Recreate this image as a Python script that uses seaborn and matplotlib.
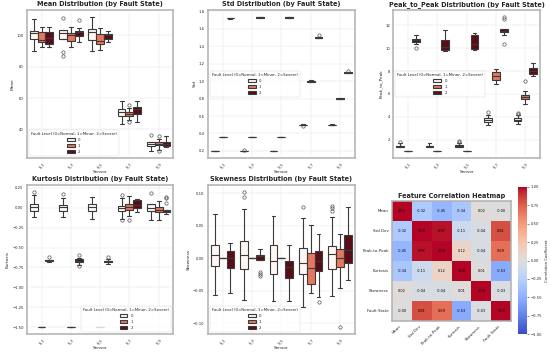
import numpy as np
import pandas as pd
import matplotlib
matplotlib.use("Agg")
import matplotlib.pyplot as plt
import seaborn as sns

# Sensors and fault levels
sensors = ["S_1", "S_3", "S_5", "S_7", "S_9"]
levels = [0, 1, 2]

# Box summaries per sensor and fault level: [low whisker, q1, median, q3, high whisker]
mean_stats = [
    [[90.3, 97.8, 101.3, 102.8, 110.3], [92.5, 95.5, 97.4, 102.4, 105.2], [92.5, 94.6, 98.3, 102.4, 105.2]],
    [[89.7, 98.0, 101.5, 103.2, 111.2], [92.7, 96.6, 100.0, 101.5, 105.2], [95.5, 99.8, 102.0, 102.8, 105.0]],
    [[89.9, 97.2, 102.2, 103.9, 112.0], [91.0, 94.8, 96.3, 101.1, 104.7], [95.7, 97.8, 100.2, 101.1, 102.8]],
    [[43.7, 48.8, 50.8, 52.7, 58.1], [46.2, 48.4, 49.7, 50.8, 53.8], [44.7, 49.7, 52.9, 54.0, 58.3]],
    [[26.0, 29.5, 30.8, 32.0, 36.1], [28.6, 29.7, 30.8, 31.6, 33.8], [28.6, 29.5, 30.5, 32.0, 35.5]],
]
mean_out = {(1, 0): [86.7], (1, 2): [109.7], (3, 1): [55.3, 44.5], (4, 1): [35.5, 27.1, 26.0]}

std_stats = [
    [[0.196, 0.199, 0.200, 0.201, 0.204], [0.354, 0.354, 0.354, 0.354, 0.354], [1.716, 1.720, 1.723, 1.726, 1.730]],
    [[0.196, 0.199, 0.200, 0.201, 0.204], [0.354, 0.354, 0.354, 0.354, 0.354], [1.726, 1.730, 1.733, 1.737, 1.740]],
    [[0.196, 0.199, 0.200, 0.201, 0.204], [0.354, 0.354, 0.354, 0.354, 0.354], [1.724, 1.728, 1.731, 1.734, 1.737]],
    [[0.495, 0.498, 0.500, 0.502, 0.506], [0.990, 0.995, 1.000, 1.004, 1.010], [1.494, 1.498, 1.501, 1.504, 1.508]],
    [[0.495, 0.498, 0.500, 0.502, 0.505], [0.794, 0.797, 0.800, 0.803, 0.806], [1.090, 1.094, 1.097, 1.100, 1.104]],
]
std_out = {(3, 0): [0.485], (3, 2): [1.525], (4, 2): [1.12], (1, 0): [0.212]}

p2p_stats = [
    [[1.33, 1.36, 1.45, 1.50, 1.71], [1.0, 1.0, 1.0, 1.0, 1.0], [10.40, 10.52, 10.70, 10.84, 11.13]],
    [[1.33, 1.38, 1.45, 1.50, 1.68], [1.0, 1.0, 1.0, 1.0, 1.0], [9.77, 9.83, 10.12, 10.70, 11.60]],
    [[1.33, 1.36, 1.47, 1.52, 1.70], [1.0, 1.0, 1.0, 1.0, 1.0], [9.86, 9.91, 10.38, 11.13, 11.30]],
    [[3.33, 3.57, 3.74, 3.86, 4.17], [6.90, 7.25, 7.57, 7.94, 8.20], [11.13, 11.39, 11.54, 11.71, 11.71]],
    [[3.36, 3.60, 3.74, 3.86, 4.14], [5.16, 5.57, 5.74, 5.91, 6.29], [7.57, 7.77, 8.03, 8.23, 8.72]],
]
p2p_out = {(0, 0): [1.80], (2, 0): [1.90, 1.80], (3, 0): [4.40], (0, 2): [10.03],
           (3, 2): [12.75, 12.55, 10.40], (4, 0): [4.38, 4.26], (4, 1): [7.13]}

kurt_stats = [
    [[-0.114, -0.038, 0.008, 0.047, 0.160], [-1.5, -1.5, -1.5, -1.5, -1.5], [-0.686, -0.670, -0.660, -0.652, -0.620]],
    [[-0.120, -0.038, 0.004, 0.034, 0.127], [-1.5, -1.5, -1.5, -1.5, -1.5], [-0.690, -0.678, -0.665, -0.648, -0.635]],
    [[-0.136, -0.038, 0.013, 0.047, 0.140], [-1.5, -1.5, -1.5, -1.5, -1.5], [-0.690, -0.682, -0.673, -0.665, -0.660]],
    [[-0.136, -0.047, 0.000, 0.025, 0.120], [-0.106, -0.030, 0.004, 0.047, 0.110], [-0.060, -0.008, 0.038, 0.093, 0.114]],
    [[-0.157, -0.047, -0.004, 0.047, 0.190], [-0.157, -0.060, -0.025, 0.013, 0.080], [-0.085, -0.060, -0.047, -0.030, -0.030]],
]
kurt_out = {(0, 0): [0.20], (1, 0): [0.17], (1, 2): [-0.59, -0.716, -0.737],
            (2, 2): [-0.62, -0.64, -0.705], (3, 0): [0.165, -0.157], (3, 1): [0.15, 0.135, -0.15],
            (4, 2): [0.13, 0.12, 0.055]}

skew_stats = [
    [[-0.056, -0.0113, 0.0046, 0.0206, 0.068], [0.0, 0.0, 0.0, 0.0, 0.0], [-0.053, -0.0155, 0.0, 0.0113, 0.023]],
    [[-0.064, -0.017, 0.0046, 0.026, 0.076], [0.0, 0.0, 0.0, 0.0, 0.0], [-0.0026, -0.0026, 0.003, 0.005, 0.006]],
    [[-0.065, -0.025, -0.0036, 0.0196, 0.064], [0.0, 0.0, 0.0, 0.0, 0.0], [-0.065, -0.030, -0.014, -0.0036, 0.021]],
    [[-0.075, -0.024, -0.0077, 0.015, 0.061], [-0.054, -0.040, -0.0155, 0.008, 0.0515], [-0.060, -0.020, -0.0046, 0.011, 0.0376]],
    [[-0.058, -0.016, 0.0067, 0.0186, 0.063], [-0.045, -0.0139, 0.001, 0.0144, 0.0376], [-0.0335, -0.0072, 0.0119, 0.036, 0.078]],
]
skew_out = {(1, 0): [0.102, 0.094], (1, 2): [0.014, -0.021, -0.024, -0.027],
            (3, 0): [0.078], (3, 2): [-0.067], (4, 0): [0.080, 0.077, 0.073], (4, 1): [-0.106]}

# Correlation matrix
corr_labels = ["Mean", "Std Dev", "Peak-to-Peak", "Kurtosis", "Skewness", "Fault State"]
corr_values = [
    [1.00, -0.32, -0.45, -0.34, 0.02, -0.00],
    [-0.32, 1.00, 0.97, -0.11, -0.04, 0.81],
    [-0.45, 0.97, 1.00, 0.12, -0.04, 0.69],
    [-0.34, -0.11, 0.12, 1.00, 0.01, -0.53],
    [0.02, -0.04, -0.04, 0.01, 1.00, -0.03],
    [-0.00, 0.81, 0.69, -0.53, -0.03, 1.00],
]


def expand(stats, outliers):
    # build a sample whose quartiles/whiskers reproduce the summary
    lo, q1, med, q3, hi = stats
    lows = sorted(v for v in outliers if v < med)
    highs = sorted(v for v in outliers if v > med)
    k = max(len(lows), len(highs)) + 1
    vals = lows + [lo] + [q1] * (k - len(lows) - 1)
    vals += [q1] + [q1] * (k - 1) + [med] + [q3] * (k - 1) + [q3]
    vals += [q3] * (k - len(highs) - 1) + [hi] + highs
    return vals


def to_frame(stats, outs, name):
    rows = []
    for i, s in enumerate(sensors):
        for lv in levels:
            for v in expand(stats[i][lv], outs.get((i, lv), [])):
                rows.append({"Sensor": s, "Fault": lv, name: v})
    return pd.DataFrame(rows)


sns.set_style("whitegrid")
plt.rcParams["font.family"] = ["DejaVu Sans"]

fig = plt.figure(figsize=(5.5, 3.55), dpi=100)
positions = [
    [0.049, 0.555, 0.266, 0.417],
    [0.378, 0.555, 0.267, 0.417],
    [0.715, 0.555, 0.267, 0.417],
    [0.049, 0.059, 0.266, 0.420],
    [0.378, 0.059, 0.267, 0.420],
]
panels = [
    (mean_stats, mean_out, "Mean", "lower left"),
    (std_stats, std_out, "Std", "center left"),
    (p2p_stats, p2p_out, "Peak_to_Peak", "center left"),
    (kurt_stats, kurt_out, "Kurtosis", "lower right"),
    (skew_stats, skew_out, "Skewness", "lower left"),
]

flier = {"marker": "o", "markerfacecolor": "none", "markeredgecolor": "#555555",
         "markersize": 2.4, "markeredgewidth": 0.5}

for pos, (stats, outs, name, loc) in zip(positions, panels):
    ax = fig.add_axes(pos)
    df = to_frame(stats, outs, name)
    sns.boxplot(data=df, x="Sensor", y=name, hue="Fault", palette="Reds", ax=ax,
                linewidth=0.8, linecolor="#3a3a3a", flierprops=flier)
    ax.set_title(f"{name} Distribution (by Fault State)", fontsize=4.7, fontweight="bold", pad=2.5)
    ax.set_xlabel("Sensor", fontsize=3.1, labelpad=1)
    ax.set_ylabel(name, fontsize=3.1, labelpad=1.5)
    ax.tick_params(axis="both", labelsize=2.7, length=1.4, width=0.4, pad=1)
    ax.tick_params(axis="x", rotation=45)
    ax.grid(True, linewidth=0.35, color="#e4e4e4")
    for sp in ax.spines.values():
        sp.set_color("#b0b0b0")
        sp.set_linewidth(1.1)
    leg = ax.legend(title="Fault Level (0=Normal, 1=Minor, 2=Severe)", loc=loc,
                    fontsize=2.8, title_fontsize=2.8, frameon=True,
                    handlelength=2.0, handleheight=0.8, borderpad=0.5)
    leg.get_frame().set_linewidth(0.3)

# Correlation heatmap
corr = pd.DataFrame(corr_values, index=corr_labels, columns=corr_labels)
hax = fig.add_axes([392 / 550, 1 - 321 / 355, 119 / 550, 120 / 355])
cax = fig.add_axes([518 / 550, 1 - 334 / 355, 9 / 550, 147 / 355])
sns.heatmap(corr, annot=True, fmt=".2f", cmap="coolwarm", vmin=-1, vmax=1, center=0,
            ax=hax, cbar_ax=cax, annot_kws={"fontsize": 2.5, "color": "black"},
            cbar_kws={"label": "Correlation Coefficient"})
hax.set_title("Feature Correlation Heatmap", fontsize=4.7, fontweight="bold", pad=2.5)
hax.tick_params(axis="both", labelsize=2.9, length=1.4, width=0.4, pad=1)
hax.set_xticklabels(hax.get_xticklabels(), rotation=45, ha="right")
hax.set_yticklabels(hax.get_yticklabels(), rotation=0)
for sp in hax.spines.values():
    sp.set_visible(True)
    sp.set_color("#b0b0b0")
    sp.set_linewidth(1.1)
cax.tick_params(labelsize=2.7, length=1.4, width=0.4, pad=1)
cax.set_ylabel("Correlation Coefficient", fontsize=2.7, labelpad=2)
cax.yaxis.set_ticks([-1, -0.75, -0.5, -0.25, 0, 0.25, 0.5, 0.75, 1])

fig.savefig("out.png", dpi=100)
